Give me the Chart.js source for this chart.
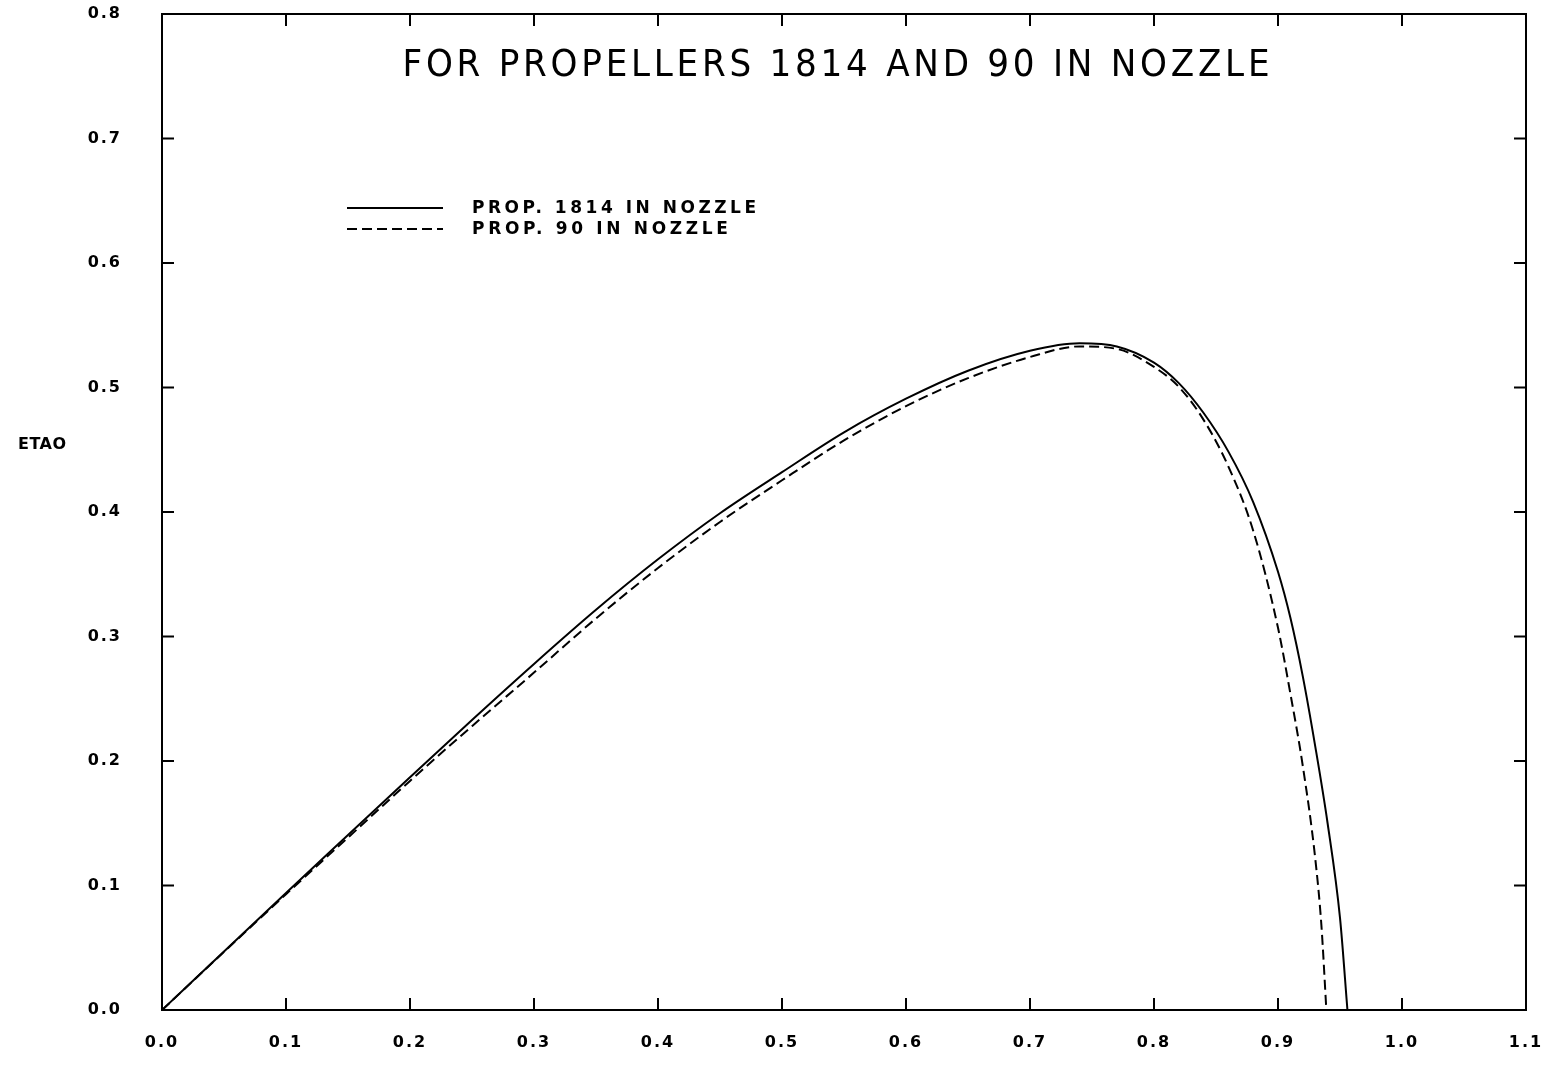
<!DOCTYPE html>
<html>
<head>
<meta charset="utf-8">
<script src="https://cdn.jsdelivr.net/npm/chart.js@4.4.0/dist/chart.umd.min.js"></script>
<style>
  html, body { margin: 0; padding: 0; background: #ffffff; }
  #wrap { width: 1556px; height: 1067px; }
</style>
</head>
<body>
<div id="wrap"><canvas id="c" width="1556" height="1067"></canvas></div>
<script>
// ---- data ----
const titleText = "FOR PROPELLERS 1814 AND 90 IN NOZZLE";
const yAxisTitle = "ETAO";
const seriesLabels = ["PROP. 1814 IN NOZZLE", "PROP. 90 IN NOZZLE"];

const j1814 = [0, 0.05, 0.10, 0.15, 0.20, 0.25, 0.30, 0.35, 0.40, 0.45, 0.50, 0.55, 0.60, 0.65, 0.70, 0.74, 0.77, 0.80, 0.82, 0.84, 0.86, 0.88, 0.90, 0.91, 0.92, 0.93, 0.94, 0.95, 0.956];
const eta1814 = [0, 0.047, 0.094, 0.1405, 0.187, 0.233, 0.278, 0.3215, 0.362, 0.399, 0.432, 0.464, 0.491, 0.5135, 0.5295, 0.5355, 0.533, 0.520, 0.5035, 0.4795, 0.4485, 0.408, 0.352, 0.315, 0.268, 0.212, 0.150, 0.074, 0];

const j90 = [0, 0.05, 0.10, 0.15, 0.20, 0.25, 0.30, 0.35, 0.40, 0.45, 0.50, 0.55, 0.60, 0.65, 0.70, 0.74, 0.77, 0.80, 0.82, 0.84, 0.86, 0.88, 0.90, 0.91, 0.92, 0.93, 0.935, 0.939];
const eta90 = [0, 0.0467, 0.093, 0.1385, 0.184, 0.228, 0.271, 0.3145, 0.355, 0.392, 0.4255, 0.4575, 0.485, 0.5075, 0.5245, 0.533, 0.531, 0.5165, 0.5005, 0.474, 0.4365, 0.385, 0.307, 0.254, 0.196, 0.122, 0.068, 0];

const xMin = 0, xMax = 1.1, xStep = 0.1;
const yMin = 0, yMax = 0.8, yStep = 0.1;

// ---- build datasets ----
const pts = (xs, ys) => xs.map((x, i) => ({ x: x, y: ys[i] }));

const fitText = (ctx, text, x, y, width, align) => {
  ctx.letterSpacing = '0px';
  const w = ctx.measureText(text).width;
  const sp = (width - w) / (text.length - 1);
  ctx.letterSpacing = sp.toFixed(2) + 'px';
  ctx.textAlign = 'left';
  const startX = align === 'center' ? x - width / 2 : x;
  ctx.fillText(text, startX, y);
  ctx.letterSpacing = '0px';
};

const spacingPlugin = {
  id: 'spacing',
  beforeDraw(chart) { chart.ctx.letterSpacing = '2px'; },
  afterDatasetsDraw(chart) { chart.ctx.letterSpacing = '0px'; }
};

const decorPlugin = {
  id: 'decor',
  afterDraw(chart) {
    const ctx = chart.ctx;
    const a = chart.chartArea;
    const xs = chart.scales.x, ys = chart.scales.y;
    ctx.save();
    ctx.letterSpacing = '0px';
    ctx.strokeStyle = '#000';
    ctx.lineWidth = 2;
    ctx.strokeRect(a.left, a.top, a.right - a.left, a.bottom - a.top);
    const tl = 12;
    ctx.beginPath();
    xs.ticks.forEach(t => {
      const px = xs.getPixelForValue(t.value);
      if (px <= a.left + 1 || px >= a.right - 1) return;
      ctx.moveTo(px, a.bottom); ctx.lineTo(px, a.bottom - tl);
      ctx.moveTo(px, a.top); ctx.lineTo(px, a.top + tl);
    });
    ys.ticks.forEach(t => {
      const py = ys.getPixelForValue(t.value);
      if (py <= a.top + 1 || py >= a.bottom - 1) return;
      ctx.moveTo(a.left, py); ctx.lineTo(a.left + tl, py);
      ctx.moveTo(a.right, py); ctx.lineTo(a.right - tl, py);
    });
    ctx.stroke();

    // title inside plot
    ctx.fillStyle = '#000';
    ctx.textBaseline = 'alphabetic';
    ctx.font = '38px "DejaVu Sans Condensed", "Liberation Sans Narrow", "Liberation Sans", sans-serif';
    fitText(ctx, titleText, 836, a.top + 62, 867, 'center');

    // legend
    ctx.font = 'bold 17px "DejaVu Sans", "Liberation Sans", sans-serif';
    ctx.textBaseline = 'middle';
    chart.data.datasets.forEach((ds, i) => {
      const ly = a.top + 194 + i * 21;
      ctx.beginPath();
      ctx.setLineDash(ds.borderDash || []);
      ctx.lineWidth = 1.8;
      ctx.moveTo(a.left + 185, ly);
      ctx.lineTo(a.left + 281, ly);
      ctx.stroke();
      ctx.setLineDash([]);
      const w = i === 0 ? 284 : 256;
      fitText(ctx, ds.label, a.left + 310, ly + 1, w, 'left');
    });

    // y axis title
    ctx.font = 'bold 16px "DejaVu Sans", "Liberation Sans", sans-serif';
    ctx.textBaseline = 'middle';
    fitText(ctx, yAxisTitle, 18, 445, 48, 'left');
    ctx.restore();
  }
};

const tickFont = { family: '"DejaVu Sans", "Liberation Sans", sans-serif', size: 16, weight: 'bold' };

new Chart(document.getElementById('c'), {
  type: 'scatter',
  data: {
    datasets: [
      {
        label: seriesLabels[0],
        data: pts(j1814, eta1814),
        showLine: true,
        borderColor: '#000',
        borderWidth: 2,
        pointRadius: 0,
        cubicInterpolationMode: 'monotone',
        fill: false
      },
      {
        label: seriesLabels[1],
        data: pts(j90, eta90),
        showLine: true,
        borderColor: '#000',
        borderWidth: 2,
        borderDash: [10, 5],
        pointRadius: 0,
        cubicInterpolationMode: 'monotone',
        fill: false
      }
    ]
  },
  options: {
    responsive: false,
    animation: false,
    layout: { padding: { top: 14, right: 30, left: 0, bottom: 0 } },
    plugins: {
      legend: { display: false },
      tooltip: { enabled: false },
      title: { display: false }
    },
    scales: {
      x: {
        type: 'linear',
        min: xMin, max: xMax,
        border: { display: false },
        grid: { display: false, drawTicks: false },
        ticks: {
          stepSize: xStep,
          padding: 23,
          color: '#000',
          font: tickFont,
          maxRotation: 0,
          autoSkip: false,
          callback: v => Number(v).toFixed(1)
        },
        afterFit(s) { s.height = 57; s.paddingLeft = 0; s.paddingRight = 0; }
      },
      y: {
        type: 'linear',
        min: yMin, max: yMax,
        border: { display: false },
        grid: { display: false, drawTicks: false },
        ticks: {
          stepSize: yStep,
          padding: 40,
          color: '#000',
          font: tickFont,
          autoSkip: false,
          callback: v => Number(v).toFixed(1)
        },
        afterFit(s) { s.width = 162; s.paddingTop = 0; s.paddingBottom = 0; }
      }
    }
  },
  plugins: [spacingPlugin, decorPlugin]
});
</script>
</body>
</html>
